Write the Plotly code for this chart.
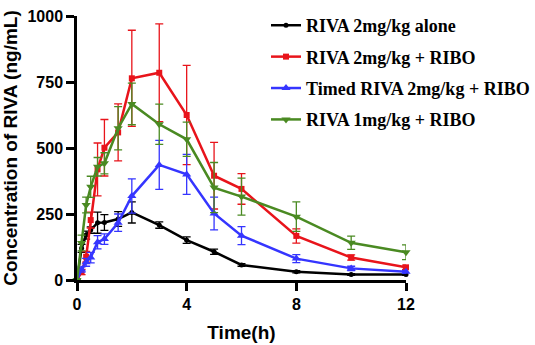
import plotly.graph_objects as go

time_h = [0, 0.167, 0.333, 0.5, 0.75, 1, 1.5, 2, 3, 4, 5, 6, 8, 10, 12]

names = ["RIVA 2mg/kg alone", "RIVA 2mg/kg + RIBO",
         "Timed RIVA 2mg/kg + RIBO", "RIVA 1mg/kg + RIBO"]

alone = [0, 120, 170, 189, 217, 218, 231, 256, 208, 151, 107, 57, 31, 21, 21]
alone_sd = [0, 15, 15, 12, 40, 30, 28, 40, 12, 12, 10, 5, 4, 3, 3]

ribo = [0, 30, 88, 227, 419, 501, 559, 764, 785, 625, 395, 345, 167, 85, 48]
ribo_sd = [0, 10, 20, 30, 100, 107, 108, 182, 185, 188, 126, 58, 27, 10, 8]

timed = [0, 40, 67, 85, 143, 155, 217, 318, 436, 400, 252, 168, 81, 44, 31]
timed_sd = [0, 10, 15, 20, 25, 20, 33, 65, 93, 76, 62, 34, 15, 8, 5]

low = [0, 140, 284, 353, 429, 442, 575, 667, 590, 533, 350, 316, 240, 141, 105]
low_sd = [0, 30, 30, 40, 35, 40, 82, 79, 76, 65, 95, 70, 56, 25, 28]

series = [alone, ribo, timed, low]
errors = [alone_sd, ribo_sd, timed_sd, low_sd]
colors = ["#000000", "#E8141B", "#3535FF", "#4A8A22"]
symbols = ["circle", "square", "triangle-up", "triangle-down"]
sizes = [5, 6, 8, 8]

fig = go.Figure()
for i in range(4):
    fig.add_trace(go.Scatter(
        x=time_h, y=series[i], name=names[i], mode="lines+markers",
        legendgroup=f"g{i}",
        line=dict(color=colors[i], width=2.5),
        marker=dict(symbol=symbols[i], size=sizes[i], color=colors[i]),
        error_y=dict(type="data", array=errors[i], visible=True,
                     color=colors[i], thickness=1.3, width=4),
        cliponaxis=False,
    ))

axis_font = dict(family="Liberation Sans, Arial", size=16, color="black", weight="bold")
title_font = dict(family="Liberation Sans, Arial", size=19, color="black", weight="bold")

fig.update_layout(
    width=550, height=350,
    margin=dict(l=77, r=144, t=21, b=65),
    paper_bgcolor="white", plot_bgcolor="white",
    showlegend=True,
    legend=dict(x=0.5745, xanchor="left", y=1.034, yanchor="top",
                font=dict(family="Liberation Serif, Times New Roman", size=18,
                          color="black", weight="bold"),
                bgcolor="rgba(0,0,0,0)", tracegroupgap=5),
    xaxis=dict(range=[0, 12], tickvals=[0, 4, 8, 12], showgrid=False, zeroline=False,
               showline=True, linecolor="black", linewidth=2.5, automargin=False,
               ticks="outside", ticklen=8, tickwidth=2.5, tickcolor="black",
               tickfont=axis_font,
               title=dict(text="Time(h)", font=title_font, standoff=14)),
    yaxis=dict(range=[0, 1000], tickvals=[0, 250, 500, 750, 1000], showgrid=False,
               zeroline=False, showline=True, linecolor="black", linewidth=2.5,
               automargin=False,
               ticks="outside", ticklen=8, tickwidth=2.5, tickcolor="black",
               tickfont=axis_font,
               title=dict(text="Concentration of RIVA (ng/mL)", font=title_font, standoff=6)),
)

fig.write_html("out.html", config={"displayModeBar": False},
               post_script="document.body.style.margin='0';document.body.style.marginTop='-5px';document.body.style.overflow='hidden';")
